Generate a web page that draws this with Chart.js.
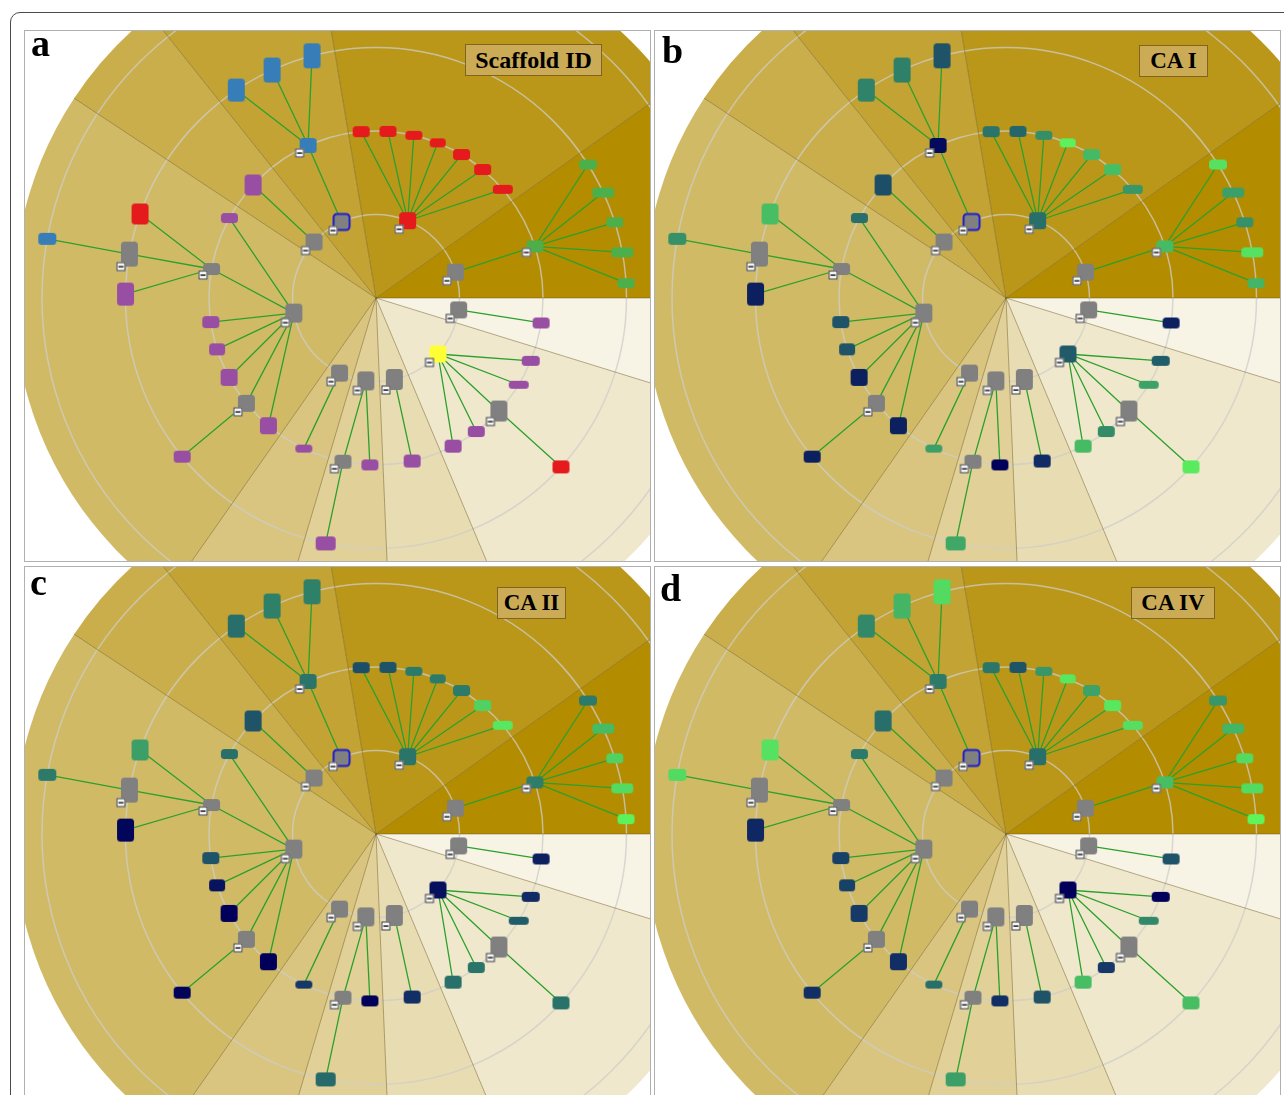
<!DOCTYPE html>
<html>
<head>
<meta charset="utf-8">
<script src="https://cdn.jsdelivr.net/npm/chart.js@4.4.1/dist/chart.umd.min.js"></script>
<style>
  html, body { margin: 0; padding: 0; background: #fff; width: 1284px; height: 1095px; overflow: hidden; }
  #frame { position: absolute; left: 10px; top: 12px; width: 1300px; height: 1200px; border: 1.5px solid #4a4a4a; border-radius: 10px; }
  .panel { position: absolute; border: 1px solid #b0b0b0; width: 625px; height: 530px; background: #fff; }
  .panel canvas { display: block; }
  .letter { position: absolute; font: bold 38px "Liberation Serif", "Times New Roman", serif; line-height: 38px; color: #000; }
  .tag { position: absolute; height: 32px; line-height: 30px; text-align: center; background: #cbab55; border: 1px solid #7f6521;
         font-family: "Liberation Serif", "Times New Roman", serif; font-weight: bold; color: #000; box-sizing: border-box; }
</style>
</head>
<body>
<div id="frame"></div>

<div class="panel" style="left:24px; top:30px;"><canvas id="pa" width="625" height="530"></canvas></div>
<div class="panel" style="left:654px; top:30px;"><canvas id="pb" width="625" height="530"></canvas></div>
<div class="panel" style="left:24px; top:566px;"><canvas id="pc" width="625" height="530"></canvas></div>
<div class="panel" style="left:654px; top:566px;"><canvas id="pd" width="625" height="530"></canvas></div>

<div class="letter" style="left:31px; top:24px;">a</div>
<div class="letter" style="left:662px; top:31px;">b</div>
<div class="letter" style="left:30px; top:563px;">c</div>
<div class="letter" style="left:660px; top:569px;">d</div>

<div class="tag" style="left:465px; top:44px; width:137px; font-size:24px;">Scaffold ID</div>
<div class="tag" style="left:1139px; top:45px; width:69px; font-size:23px;">CA I</div>
<div class="tag" style="left:497px; top:587px; width:69px; font-size:23px;">CA II</div>
<div class="tag" style="left:1131px; top:587px; width:84px; font-size:23px;">CA IV</div>

<script>
// scaffold tree: parent of each node (-1 = first ring around the root)
const nodeParent = [
  -1, -1, -1, -1, -1, -1, -1, -1, -1, -1,
  0, 1, 1, 1, 1, 1, 1, 1, 2, 3, 4, 4, 4, 4, 4, 4, 4, 5, 6, 6, 7, 8, 8, 8, 8, 8, 9,
  10, 10, 10, 10, 10, 18, 18, 18, 21, 21, 21, 25, 28, 33,
  46
];

// angular position of every node (degrees, counter-clockwise from east)
const nodeAngle = [
  18.0, 67.7, 114.4, 137.9, 190.4, 244.1, 263.0, 282.7, 317.9, 351.8,
  18.0, 95.1, 85.9, 76.9, 68.3, 59.2, 50.3, 40.6, 114.0, 137.4, 151.4, 170.0, 188.3, 197.9,
  208.4, 219.1, 229.9, 244.4, 258.6, 267.9, 282.5, 297.5, 306.9, 317.4, 328.7, 337.9, 351.4,
  32.2, 24.9, 17.6, 10.5, 3.4, 104.8, 114.5, 123.9, 160.4, 169.9, 179.1, 219.3, 258.4, 317.6,
  169.8
];

// scaffold id classes (panel a)
const scaffoldClass = [
  'gray', 'red', 'gray', 'gray', 'gray', 'gray', 'gray', 'gray', 'yellow', 'gray',
  'green', 'red', 'red', 'red', 'red', 'red', 'red', 'red', 'blue', 'purple', 'purple', 'gray', 'purple', 'purple',
  'purple', 'gray', 'purple', 'purple', 'gray', 'purple', 'purple', 'purple', 'purple', 'gray', 'purple', 'purple', 'purple',
  'green', 'green', 'green', 'green', 'green', 'blue', 'blue', 'blue', 'red', 'gray', 'purple', 'purple', 'purple', 'red',
  'blue'
];

// activity scores 0-10 (null = virtual scaffold, no value)
const caI = [
  null, 4.4, null, null, null, null, null, null, 3.5, null,
  7.3, 4.7, 4.0, 5.7, 9.8, 7.2, 7.4, 6.0, 0.3, 3.0, 4.4, null, 3.2, 3.2,
  1.0, null, 1.0, 6.3, null, 0, 1.5, 7.3, 5.6, null, 6.4, 3.6, 1.0,
  8.9, 6.3, 5.8, 8.9, 7.0, 3.2, 5.2, 5.3, 7.4, null, 1.0, 1.0, 6.6, 9.4,
  5.8
];
const caII = [
  null, 4.7, null, null, null, null, null, null, 0.5, null,
  5.1, 3.0, 3.2, 5.0, 5.0, 5.0, 8.2, 9.2, 4.7, 3.2, 4.5, null, 3.2, 0.6,
  0, null, 0, 2.0, null, 0, 1.6, 4.5, 4.7, null, 3.6, 1.5, 1.0,
  5.0, 7.3, 8.2, 8.6, 9.8, 5.2, 5.2, 4.4, 6.3, null, 0.2, 0.1, 4.2, 4.6,
  5.0
];
const caIV = [
  null, 4.4, null, null, null, null, null, null, 0, null,
  7.4, 4.8, 3.2, 6.0, 9.2, 6.4, 9.2, 8.8, 5.0, 4.4, 5.0, null, 2.4, 2.4,
  2.1, null, 1.6, 4.4, null, 1.6, 3.2, 7.4, 2.0, null, 5.5, 0, 3.2,
  6.0, 7.0, 8.6, 8.6, 10, 8.6, 7.0, 5.5, 8.9, null, 1.3, 1.6, 6.3, 7.4,
  8.6
];

const selectedNode = 2;

// subtree sectors (degrees) and ring ticks (tree depth)
const sectorEdges = [0, 35.4, 99.5, 128.5, 146.5, 235, 253.5, 272.4, 292.8, 342.8, 360];
const ringTicks = [1, 2, 3, 4];
const diskRadius = 4.335;

// ---- styles ----
const nodeBox = [
  [17,17],[17,17],[17,17],[17,17],[17,19],[17,17],[17,19],[17,21],[17,17],[17,17],
  [17,12],[17,11],[17,11],[17,9],[16,9],[17,11],[17,11],[20,9],[17,15],[17,21],[17,10],[17,12],[17,12],[16,12],
  [17,17],[17,17],[17,17],[17,8],[17,14],[17,11],[17,13],[17,13],[17,11],[17,21],[20,8],[18,10],[17,11],
  [18,10],[22,10],[17,10],[22,10],[17,10],[17,25],[17,25],[17,23],[17,21],[17,25],[17,23],[17,12],[20,14],[17,13],
  [18,12]
];
const classColor = { gray: '#808080', red: '#e41a1c', blue: '#377eb8', green: '#4daf4a', purple: '#984ea3', yellow: '#ffff33' };
const rampStops = ['#00005a', '#0c2060', '#153868', '#1c4e67', '#25666a', '#2c7a69', '#389668', '#44b465', '#4ecc63', '#57e360', '#5ff55a'];
const sectorShade = [1.0, 0.9, 0.8, 0.7, 0.6, 0.5, 0.4, 0.3, 0.2, 0.1];

const xMin = -4.2036, xMax = 3.2814, yMin = -3.1497, yMax = 3.1976;

function hexRgb(h) {
  return [parseInt(h.slice(1, 3), 16), parseInt(h.slice(3, 5), 16), parseInt(h.slice(5, 7), 16)];
}
function rampColor(v) {
  const t = Math.max(0, Math.min(10, v));
  const i = Math.min(Math.floor(t), 9), f = t - i;
  const a = hexRgb(rampStops[i]), b = hexRgb(rampStops[i + 1]);
  return 'rgb(' + a.map((c, k) => Math.round(c + (b[k] - c) * f)).join(',') + ')';
}

function roundRect(g, x, y, w, h, r) {
  g.beginPath();
  g.moveTo(x + r, y);
  g.arcTo(x + w, y, x + w, y + h, r);
  g.arcTo(x + w, y + h, x, y + h, r);
  g.arcTo(x, y + h, x, y, r);
  g.arcTo(x, y, x + w, y, r);
  g.closePath();
}

function makeNodeImage(w, h, fill, kids, selected) {
  const pad = 6;
  const c = document.createElement('canvas');
  c.width = w + pad * 2;
  c.height = h + pad * 2;
  const g = c.getContext('2d');
  roundRect(g, pad, pad, w, h, 3.5);
  g.fillStyle = fill;
  g.fill();
  if (selected) {
    roundRect(g, pad + 0.5, pad + 0.5, w - 1, h - 1, 3.5);
    g.strokeStyle = '#1e1ed2';
    g.lineWidth = 2;
    g.stroke();
  }
  if (kids) {
    const bx = pad - 4.5, by = pad + h - 4.5;
    g.fillStyle = '#f6f6f6';
    g.fillRect(bx, by, 9, 9);
    g.strokeStyle = '#3a3a3a';
    g.lineWidth = 1;
    g.strokeRect(bx + 0.5, by + 0.5, 8, 8);
    g.fillStyle = '#303030';
    g.fillRect(bx + 2, by + 3.8, 5, 1.6);
  }
  return c;
}

// depth of each node from its parent chain
const nodeLevel = [];
nodeParent.forEach((p, i) => { nodeLevel[i] = p < 0 ? 1 : nodeLevel[p] + 1; });
const hasKids = nodeParent.map((_, i) => nodeParent.includes(i));

const nodePts = nodeAngle.map((a, i) => ({
  x: nodeLevel[i] * Math.cos(a * Math.PI / 180),
  y: nodeLevel[i] * Math.sin(a * Math.PI / 180)
}));

const linkPts = [];
nodeParent.forEach((p, i) => {
  if (p < 0) return;
  linkPts.push(nodePts[p], nodePts[i], { x: null, y: null });
});

const radialBg = {
  id: 'radialBg',
  beforeDatasetsDraw(chart) {
    const ctx = chart.ctx, xs = chart.scales.x, ys = chart.scales.y;
    const cx = xs.getPixelForValue(0), cy = ys.getPixelForValue(0);
    const unit = xs.getPixelForValue(1) - cx;
    const R = diskRadius * unit;
    ctx.save();
    for (let i = 0; i < sectorEdges.length - 1; i++) {
      const a0 = -sectorEdges[i] * Math.PI / 180, a1 = -sectorEdges[i + 1] * Math.PI / 180;
      ctx.beginPath();
      ctx.moveTo(cx, cy);
      ctx.arc(cx, cy, R, a0, a1, true);
      ctx.closePath();
      ctx.fillStyle = 'rgba(179,140,0,' + sectorShade[i] + ')';
      ctx.fill();
    }
    ctx.strokeStyle = 'rgba(205,205,200,0.75)';
    ctx.lineWidth = 1.5;
    ringTicks.forEach(r => {
      ctx.beginPath();
      ctx.arc(cx, cy, r * unit, 0, Math.PI * 2);
      ctx.stroke();
    });
    ctx.strokeStyle = 'rgba(100,80,20,0.45)';
    ctx.lineWidth = 1;
    sectorEdges.slice(0, -1).forEach(a => {
      const t = -a * Math.PI / 180;
      ctx.beginPath();
      ctx.moveTo(cx, cy);
      ctx.lineTo(cx + R * Math.cos(t), cy + R * Math.sin(t));
      ctx.stroke();
    });
    ctx.restore();
  }
};

function drawPanel(id, colorOf) {
  const imgs = nodePts.map((_, i) =>
    makeNodeImage(nodeBox[i][0], nodeBox[i][1], colorOf(i), hasKids[i], i === selectedNode));
  new Chart(document.getElementById(id), {
    type: 'scatter',
    data: {
      datasets: [
        {
          label: 'scaffolds',
          data: nodePts,
          order: 0,
          pointStyle: (c) => imgs[c.dataIndex],
          pointRadius: 9,
          pointHoverRadius: 9
        },
        {
          label: 'links',
          data: linkPts,
          order: 1,
          showLine: true,
          spanGaps: false,
          borderColor: '#2ca02c',
          borderWidth: 1.3,
          pointRadius: 0,
          pointHoverRadius: 0
        }
      ]
    },
    options: {
      responsive: false,
      animation: false,
      events: [],
      layout: { padding: 0, autoPadding: false },
      scales: {
        x: { type: 'linear', min: xMin, max: xMax, display: false },
        y: { type: 'linear', min: yMin, max: yMax, display: false }
      },
      plugins: { legend: { display: false }, tooltip: { enabled: false } }
    },
    plugins: [radialBg]
  });
}

drawPanel('pa', i => classColor[scaffoldClass[i]]);
drawPanel('pb', i => caI[i] === null ? classColor.gray : rampColor(caI[i]));
drawPanel('pc', i => caII[i] === null ? classColor.gray : rampColor(caII[i]));
drawPanel('pd', i => caIV[i] === null ? classColor.gray : rampColor(caIV[i]));
</script>
</body>
</html>
